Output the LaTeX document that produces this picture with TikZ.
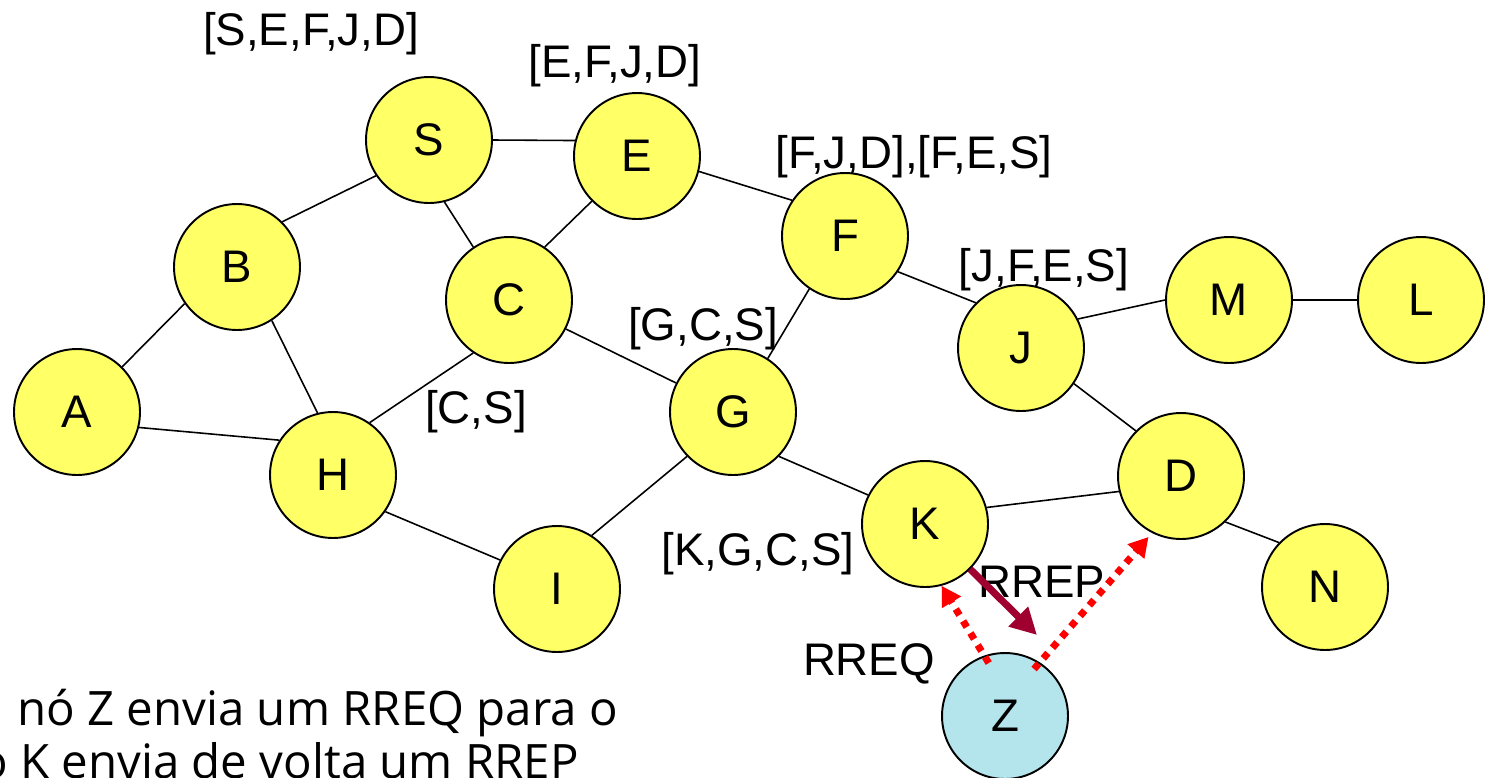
\documentclass[tikz,border=0pt]{standalone}
\usepackage{fontspec}
\setmainfont{Liberation Sans}
\newfontfamily\notefont{Open Sans}
\usetikzlibrary{arrows.meta}
\definecolor{hostyellow}{HTML}{FFFF66}
\definecolor{zblue}{HTML}{B4E4EC}
\definecolor{rrepred}{HTML}{A00030}

\begin{document}
\begin{tikzpicture}[x=0.02cm,y=-0.02cm,
 host/.style={circle, draw, line width=1.1pt, fill=hostyellow,
  minimum size=2.52cm, inner sep=0pt, font=\fontsize{26}{30}\selectfont},
 link/.style={line width=0.9pt},
 route/.style={anchor=base, font=\fontsize{26}{30}\selectfont},
 rreq/.style={red, line width=4pt, dash pattern=on 4pt off 4pt,
  -{Triangle[length=11pt,width=12pt]}},
 rrep/.style={rrepred, line width=4pt, -{Triangle[length=15pt,width=15pt]}},
 note/.style={anchor=base west, font=\notefont\fontsize{27}{32}\selectfont}]
\useasboundingbox (0,0) rectangle (1485,778);

\node[host] (A) at (77,412) {A};
\node[host] (B) at (237,267) {B};
\node[host] (S) at (429,140) {S};
\node[host] (E) at (637,156) {E};
\node[host] (C) at (509,300) {C};
\node[host] (H) at (333,475) {H};
\node[host] (G) at (733,412) {G};
\node[host] (F) at (845,236) {F};
\node[host] (I) at (557,589) {I};
\node[host] (K) at (925,524) {K};
\node[host] (J) at (1021,348) {J};
\node[host] (M) at (1229,300) {M};
\node[host] (L) at (1421,300) {L};
\node[host] (D) at (1181,476) {D};
\node[host] (N) at (1325,587) {N};
\node[host, fill=zblue] (Z) at (1005,716) {Z};

\draw[link] (A.45) -- (B.215);
\draw[link] (A.-14) -- (H.147);
\draw[link] (B.45) -- (S.214);
\draw[link] (B.-57) -- (H.104);
\draw[link] (S.0) -- (E.166);
\draw[link] (S.-76) -- (C.124);
\draw[link] (E.225) -- (C.56);
\draw[link] (E.-14) -- (F.146);
\draw[link] (C.-27) -- (G.153);
\draw[link] (C.236) -- (H.55);
\draw[link] (F.236) -- (G.57);
\draw[link] (H.-35) -- (I.153);
\draw[link] (G.224) -- (I.57);
\draw[link] (G.-44) -- (K.153);
\draw[link] (F.-34) -- (J.135);
\draw[link] (J.27) -- (M.180);
\draw[link] (M.0) -- (L.180);
\draw[link] (J.-34) -- (D.135);
\draw[link] (K.15) -- (D.194);
\draw[link] (D.-46) -- (N.136);

\node[route] (rtS) at (311,45) {[S,E,F,J,D]};
\node[route] (rtE) at (615,77) {[E,F,J,D]};
\node[route] (rtF) at (914,168) {[F,J,D],[F,E,S]};
\node[route] (rtJ) at (1044,281) {[J,F,E,S]};
\node[route] (rtG) at (703,340) {[G,C,S]};
\node[route] (rtC) at (476,423) {[C,S]};
\node[route] (rtK) at (758,565) {[K,G,C,S]};
\node[route] (lblrrep) at (1042,597) {RREP};
\node[route] (lblrreq) at (869,675) {RREQ};

\coordinate (reptip) at (1037,635);
\draw[rrep] (K.-45) -- (reptip);
\draw[rreq, shorten <=-5pt] (Z.109) -- (K.-75);
\draw[rreq, shorten <=-5pt, shorten >=3pt] (Z.57) -- (D.-117);

\node[note] (note1) at (11,725) {nó Z envia um RREQ para o};
\node[note] (note2) at (-27,778) {ó K envia de volta um RREP};
\end{tikzpicture}
\end{document}
